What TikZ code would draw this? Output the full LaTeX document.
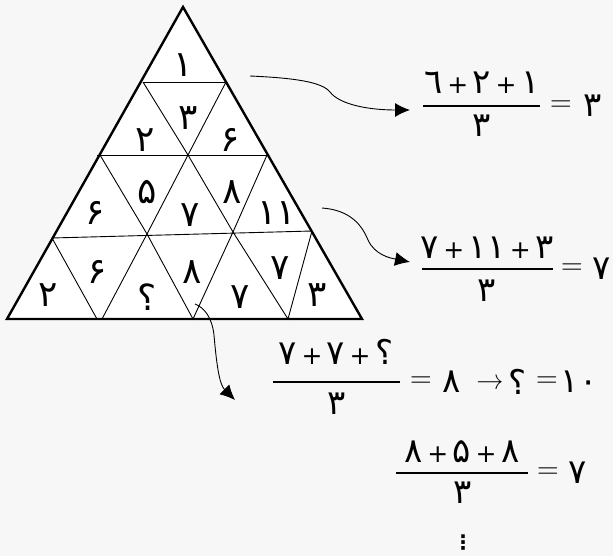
\documentclass[tikz,border=0pt]{standalone}
\usepackage{fontspec}
\usetikzlibrary{arrows.meta}
\newfontfamily\fa[Script=Arabic]{DejaVu Sans}
\newcommand{\pl}{{\fontsize{25}{28}\selectfont\hspace{0.18em}+\hspace{0.18em}}}
\definecolor{bgc}{HTML}{F7F7F7}
\tikzset{
  outer/.style={line width=2.4pt, line join=miter},
  inner/.style={line width=0.9pt},
  tri/.style={font=\fontsize{36}{40}\selectfont\fa, inner sep=0pt},
  eqt/.style={font=\fontsize{34}{38}\selectfont\fa, inner sep=0pt},
  eqs/.style={font=\fontsize{30}{34}\selectfont, inner sep=0pt},
  fbar/.style={line width=2.6pt},
  conn/.style={line width=0.9pt, -{Latex[length=15pt,width=14pt]}},
}
\begin{document}
\begin{tikzpicture}[x=1pt,y=-1pt]
\useasboundingbox (0,0) rectangle (613,556);
\fill[bgc] (0,0) rectangle (613,556);
% outer triangle
\coordinate (A) at (183,7);
\coordinate (B) at (7,319);
\coordinate (C) at (362,319);
\fill[white] (A) -- (B) -- (C) -- cycle;
% row lines
\draw[inner] (143,82) -- (226,82);
\draw[inner] (97,155) -- (268,155);
\draw[inner] (52,238) -- (312,231);
% row 2
\draw[inner] (143,82) -- (188,155) -- (226,82);
% row 3
\draw[inner] (100,155) -- (147,234) -- (188,155) -- (233,232) -- (267,155);
% row 4
\draw[inner] (52,238) -- (97,319);
\draw[inner] (102,319) -- (147,234) -- (193,319) -- (233,232) -- (288,319) -- (312,231);
\draw[outer] (A) -- (B) -- (C) -- cycle;
% triangle labels
\node[tri] (t1) at (183,65) {۱};
\node[tri] (t2) at (188,118) {۳};
\node[tri] (t3) at (145,140) {۲};
\node[tri] (t4) at (230,140) {۶};
\node[tri] (t5) at (95,213) {۶};
\node[tri] (t6) at (147,192) {۵};
\node[tri] (t7) at (190,215) {۷};
\node[tri] (t8) at (232,192) {۸};
\node[tri] (t9) at (277,213) {۱۱};
\node[tri] (t10) at (48,295) {۲};
\node[tri] (t11) at (97,272) {۶};
\node[tri] (t12) at (147,297) {؟};
\node[tri] (t13) at (192,272) {۸};
\node[tri] (t14) at (240,297) {۷};
\node[tri] (t15) at (280,268) {۷};
\node[tri] (t16) at (317,295) {۳};
% equation 1
\node[eqt] (n1) at (482,83) {٦\pl۲\pl۱};
\draw[fbar] (423,106) -- (540,106);
\node[eqt] (d1) at (482,126) {۳};
\node[eqs] (q1) at (561,106) {=};
\node[eqt] (v1) at (593,106) {۳};
% equation 2
\node[eqt] (n2) at (487,248) {۷\pl۱۱\pl۳};
\draw[fbar] (422,269) -- (553,269);
\node[eqt] (d2) at (487,291) {۳};
\node[eqs] (q2) at (572,269) {=};
\node[eqt] (v2) at (602,269) {۷};
% equation 3
\node[eqt] (n3) at (336,352) {۷\pl۷\pl؟};
\draw[fbar] (273,382) -- (400,382);
\node[eqt] (d3) at (337,404) {۳};
\node[eqs] (q3) at (421,382) {=};
\node[eqt] (v3) at (452,382) {۸};
\node[eqs] (r3) at (490,382) {\fontsize{29}{32}\selectfont\textrightarrow};
\node[eqt] (u3) at (518,382) {؟};
\node[eqs] (q3b) at (547,382) {=};
\node[eqt] (w3) at (579,382) {۱۰};
% equation 4
\node[eqt] (n4) at (462,452) {۸\pl۵\pl۸};
\draw[fbar] (396,473) -- (528,473);
\node[eqt] (d4) at (463,493) {۳};
\node[eqs] (q4) at (548,473) {=};
\node[eqt] (v4) at (578,473) {۷};
\node[font=\fontsize{20}{24}\selectfont\fa\bfseries, inner sep=0pt] (dots) at (463,543) {⋮};
% arrows
\coordinate (s1) at (250,76);
\coordinate (e1) at (410,110);
\coordinate (s2) at (322,208);
\coordinate (e2) at (410,262);
\coordinate (s3) at (195,304);
\coordinate (e3) at (235,400);
\draw[conn] (s1) .. controls (295,78) and (322,82) .. (330,92) .. controls (340,105) and (370,110) .. (e1);
\draw[conn] (s2) .. controls (350,210) and (362,225) .. (368,240) .. controls (375,255) and (390,258) .. (e2);
\draw[conn] (s3) .. controls (205,308) and (212,318) .. (214,335) .. controls (217,370) and (220,385) .. (e3);
\end{tikzpicture}
\end{document}
